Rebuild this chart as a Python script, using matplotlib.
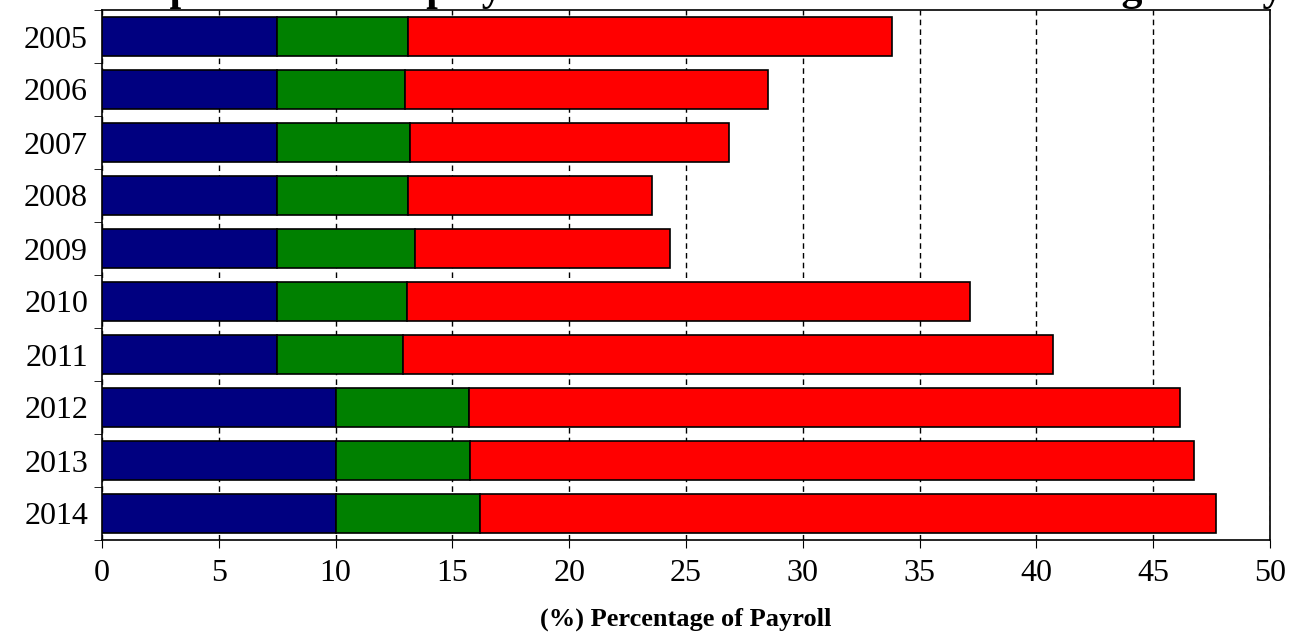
import matplotlib
matplotlib.use("Agg")
import matplotlib.pyplot as plt
import numpy as np

plt.rcParams["font.family"] = ["Liberation Serif", "DejaVu Serif"]

years = ["2005", "2006", "2007", "2008", "2009", "2010", "2011", "2012", "2013", "2014"]
part1 = [7.5, 7.5, 7.5, 7.5, 7.5, 7.5, 7.5, 10.0, 10.0, 10.0]
part1_2 = [13.1, 12.95, 13.2, 13.1, 13.4, 13.05, 12.9, 15.7, 15.75, 16.2]
total = [33.8, 28.5, 26.85, 23.55, 24.3, 37.15, 40.7, 46.15, 46.75, 47.7]

part2 = np.array(part1_2) - np.array(part1)
part3 = np.array(total) - np.array(part1_2)

fig = plt.figure(figsize=(12.99, 6.35), dpi=100)
ax = fig.add_axes([102 / 1299, 1 - 540 / 635, 1168 / 1299, 530 / 635])

y = np.arange(len(years))
kw = dict(height=0.72, edgecolor="black", linewidth=1.2, zorder=3)
ax.barh(y, part1, color="#000080", **kw)
ax.barh(y, part2, left=part1, color="#008000", **kw)
ax.barh(y, part3, left=part1_2, color="#ff0000", **kw)

ax.set_xlim(0, 50)
ax.set_ylim(len(years) - 0.5, -0.5)
ax.set_xticks(np.arange(0, 51, 5))
ax.set_yticks(y)
ax.set_yticklabels(years)
ax.set_yticks(np.arange(-0.5, len(years), 1), minor=True)
ax.tick_params(axis="y", which="major", length=0, labelsize=23, pad=10)
ax.tick_params(axis="y", which="minor", length=6, direction="out")
ax.tick_params(axis="x", labelsize=23, length=6, direction="out", pad=8)
ax.grid(axis="x", color="black", linestyle=(0, (4, 3)), linewidth=1, zorder=0)
for s in ax.spines.values():
    s.set_linewidth(1.2)

ax.set_xlabel("(%) Percentage of Payroll", fontsize=19, fontweight="bold", labelpad=14)
fig.text(0.55, 1.0, "Components of Employer Contribution Rate as a Percentage of Payroll",
         ha="center", va="baseline", fontsize=30, fontweight="bold")

fig.savefig("out.png", dpi=100)
